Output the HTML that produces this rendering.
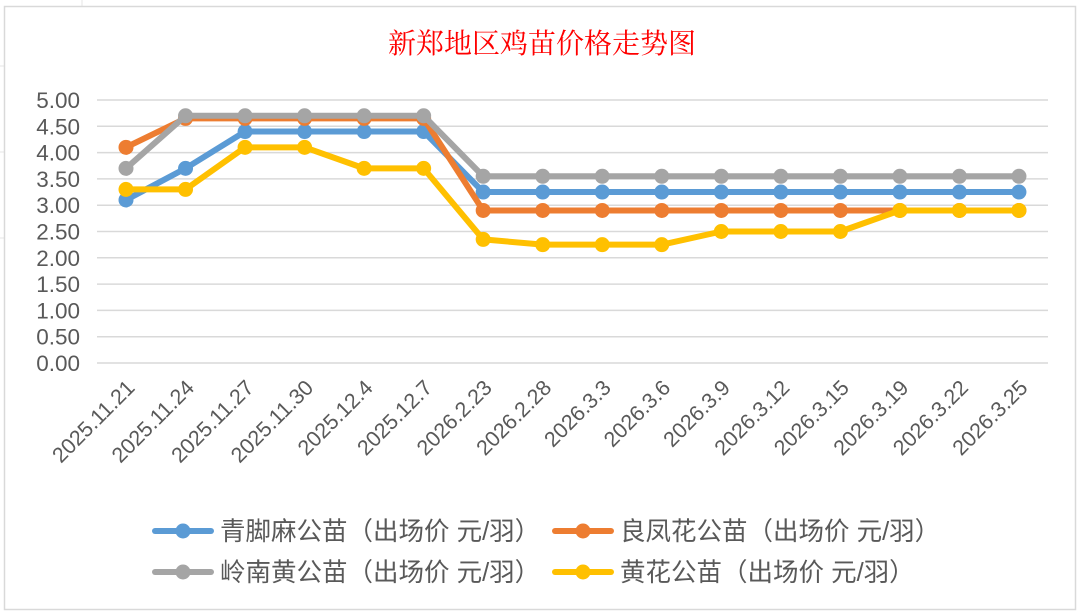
<!DOCTYPE html>
<html><head><meta charset="utf-8"><style>
body{margin:0;background:#fff;}
svg{display:block;font-family:"Liberation Sans","Noto Sans CJK SC",sans-serif;}
</style></head><body>
<svg width="1084" height="616" xmlns="http://www.w3.org/2000/svg">
<rect x="0" y="0" width="1084" height="616" fill="#fff"/>
<g stroke="#e4e4e4" stroke-width="1">
<line x1="82" y1="0" x2="82" y2="6"/><line x1="0" y1="66" x2="4" y2="66"/><line x1="0" y1="152" x2="4" y2="152"/><line x1="0" y1="238" x2="4" y2="238"/>
</g>
<rect x="4.5" y="6.5" width="1071" height="603" fill="#fff" stroke="#d9d9d9" stroke-width="1.5"/>
<text x="542" y="53" text-anchor="middle" font-size="28" fill="#ff0000" font-family="'Noto Serif CJK SC',serif">新郑地区鸡苗价格走势图</text>
<g stroke="#d9d9d9" stroke-width="1.5" id="grid"></g>
<g id="ylab" font-size="22.5" fill="#595959" text-anchor="end"></g>
<g id="xlab" font-size="21.5" fill="#595959" text-anchor="end"></g>
<g id="series"></g>
<g font-size="25.5" fill="#595959">
<line x1="155" y1="531" x2="211" y2="531" stroke="#5b9bd5" stroke-width="6" stroke-linecap="round"/><circle cx="183" cy="531" r="7.5" fill="#5b9bd5"/>
<text x="220" y="540">青脚麻公苗（出场价 元/羽）</text>
<line x1="555" y1="531" x2="611" y2="531" stroke="#ed7d31" stroke-width="6" stroke-linecap="round"/><circle cx="583" cy="531" r="7.5" fill="#ed7d31"/>
<text x="620" y="540">良凤花公苗（出场价 元/羽）</text>
<line x1="155" y1="572" x2="211" y2="572" stroke="#a5a5a5" stroke-width="6" stroke-linecap="round"/><circle cx="183" cy="572" r="7.5" fill="#a5a5a5"/>
<text x="220" y="581">岭南黄公苗（出场价 元/羽）</text>
<line x1="555" y1="572" x2="611" y2="572" stroke="#ffc000" stroke-width="6" stroke-linecap="round"/><circle cx="583" cy="572" r="7.5" fill="#ffc000"/>
<text x="620" y="581">黄花公苗（出场价 元/羽）</text>
</g>
</svg>
<script>
var NS="http://www.w3.org/2000/svg";
function el(p,t,a,txt){var e=document.createElementNS(NS,t);for(var k in a)e.setAttribute(k,a[k]);if(txt!=null)e.textContent=txt;document.getElementById(p).appendChild(e);return e;}
var y0=363,su=52.6;function Y(v){return y0-v*su;}
for(var i=0;i<=10;i++){var v=i*0.5;el("grid","line",{x1:97,x2:1048,y1:Y(v),y2:Y(v)});el("ylab","text",{x:80,y:Y(v)+8},v.toFixed(2));}
var labs=["2025.11.21","2025.11.24","2025.11.27","2025.11.30","2025.12.4","2025.12.7","2026.2.23","2026.2.28","2026.3.3","2026.3.6","2026.3.9","2026.3.12","2026.3.15","2026.3.19","2026.3.22","2026.3.25"];
function X(i){return 126+i*59.53;}
labs.forEach(function(l,i){var x=X(i)+10,y=389;el("xlab","text",{x:x,y:y,transform:"rotate(-45 "+x+" "+y+")"},l);});
var S=[["#5b9bd5",[3.1,3.7,4.4,4.4,4.4,4.4,3.25,3.25,3.25,3.25,3.25,3.25,3.25,3.25,3.25,3.25]],
["#ed7d31",[4.1,4.65,4.65,4.65,4.65,4.65,2.9,2.9,2.9,2.9,2.9,2.9,2.9,2.9,2.9,2.9]],
["#a5a5a5",[3.7,4.7,4.7,4.7,4.7,4.7,3.55,3.55,3.55,3.55,3.55,3.55,3.55,3.55,3.55,3.55]],
["#ffc000",[3.3,3.3,4.1,4.1,3.7,3.7,2.35,2.25,2.25,2.25,2.5,2.5,2.5,2.9,2.9,2.9]]];
S.forEach(function(s){var pts=s[1].map(function(v,i){return X(i)+","+Y(v);}).join(" ");
el("series","polyline",{points:pts,fill:"none",stroke:s[0],"stroke-width":6,"stroke-linejoin":"round"});
s[1].forEach(function(v,i){el("series","circle",{cx:X(i),cy:Y(v),r:7.5,fill:s[0]});});});
</script>
</body></html>
